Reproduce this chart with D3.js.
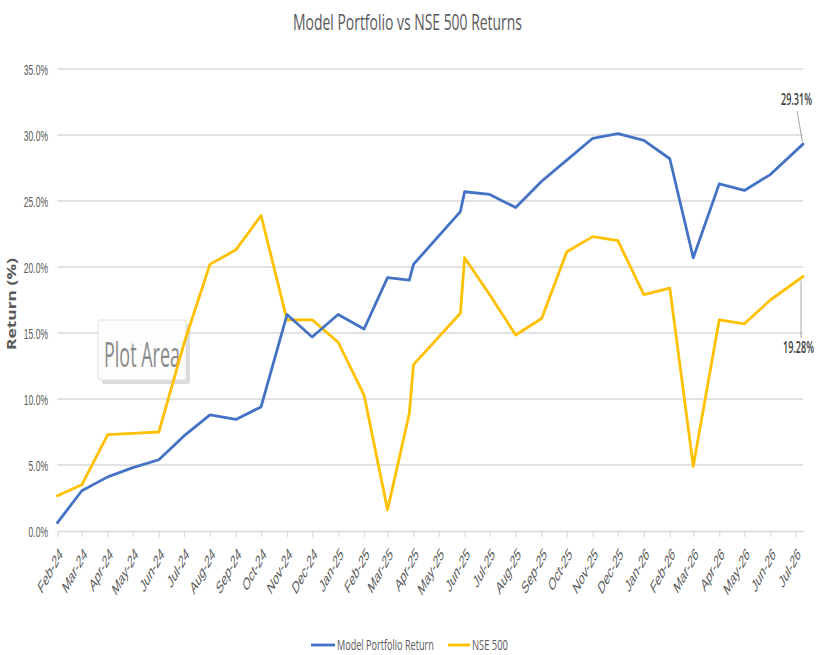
<!DOCTYPE html>
<html>
<head>
<meta charset="utf-8">
<script src="https://cdn.jsdelivr.net/npm/d3@7"></script>
<style>
  html, body { margin: 0; padding: 0; background: #ffffff; }
  svg { display: block; font-family: "Open Sans", "Liberation Sans", sans-serif; }
</style>
</head>
<body>
<svg id="chart" width="816" height="655"></svg>
<script>
// ---------------- data ----------------
const title = "Model Portfolio vs NSE 500 Returns";
const yAxisTitle = "Return (%)";
const seriesNames = ["Model Portfolio Return", "NSE 500"];
const dates = [
  "2024-02-01","2024-03-01","2024-04-01","2024-05-01","2024-06-01","2024-07-01",
  "2024-08-01","2024-09-01","2024-10-01","2024-11-01","2024-12-01","2025-01-01",
  "2025-02-01","2025-03-01","2025-03-27","2025-04-01","2025-05-27","2025-06-01",
  "2025-07-01","2025-08-01","2025-09-01","2025-10-01","2025-11-01","2025-12-01",
  "2026-01-01","2026-02-01","2026-03-01","2026-04-01","2026-05-01","2026-06-01",
  "2026-07-10"
];
const portfolio = [
  0.63, 3.05, 4.1, 4.8, 5.4, 7.2,
  8.8, 8.45, 9.4, 16.4, 14.7, 16.4,
  15.3, 19.2, 19.0, 20.2, 24.2, 25.7,
  25.5, 24.5, 26.5, 28.1, 29.75, 30.1,
  29.6, 28.2, 20.7, 26.3, 25.8, 27.0,
  29.31
];
const nse500 = [
  2.67, 3.5, 7.3, 7.4, 7.5, 14.2,
  20.2, 21.3, 23.9, 16.0, 16.0, 14.3,
  10.3, 1.6, 8.9, 12.6, 16.5, 20.7,
  17.9, 14.85, 16.1, 21.15, 22.3, 22.0,
  17.9, 18.4, 4.9, 16.0, 15.7, 17.5,
  19.28
];
const yTicks = [0, 5, 10, 15, 20, 25, 30, 35];
const endLabels = ["29.31%", "19.28%"];
const colors = ["#4472C4", "#FFC000"];

// ---------------- layout ----------------
const svg = d3.select("#chart");
const parse = d3.timeParse("%Y-%m-%d");
const dts = dates.map(parse);
const plotLeft = 57.5, plotRight = 803, plotTop = 69, plotBottom = 531;

const x = d3.scaleTime().domain(d3.extent(dts)).range([plotLeft, plotRight]);
const y = d3.scaleLinear().domain([0, 35]).range([plotBottom, plotTop]);

const K = 0.55; // horizontal squeeze of the glyphs

// place a text at (px,py) squeezed horizontally to a target width
function fitText(parent, str, px, py, width, opts) {
  const t = parent.append("text")
    .attr("x", 0).attr("y", 0)
    .attr("text-anchor", opts.anchor || "start")
    .attr("fill", opts.fill || "#595959")
    .style("font-size", opts.size + "px")
    .style("font-weight", opts.weight || "normal")
    .text(str);
  const len = t.node().getComputedTextLength();
  const s = width / len;
  t.attr("transform", `translate(${px},${py}) ${opts.rotate ? "rotate(" + opts.rotate + ") " : ""}scale(${s},1)`);
  return t;
}

// gridlines
svg.append("g").selectAll("line").data(yTicks.filter(d => d > 0)).join("line")
  .attr("x1", plotLeft).attr("x2", plotRight)
  .attr("y1", d => y(d)).attr("y2", d => y(d))
  .attr("stroke", "#d9d9d9").attr("stroke-width", 1.5);

// x axis
const xAxis = d3.axisBottom(x)
  .ticks(d3.timeMonth.every(1))
  .tickFormat(d3.timeFormat("%b-%y"))
  .tickSize(6).tickSizeOuter(0);
const gx = svg.append("g").attr("transform", `translate(0,${plotBottom})`).call(xAxis);
gx.select(".domain").attr("stroke", "#d9d9d9").attr("stroke-width", 1.5);
gx.selectAll(".tick line").attr("stroke", "#d9d9d9").attr("stroke-width", 1.2);
gx.selectAll(".tick text")
  .attr("x", 0).attr("y", 0).attr("dy", "0.35em")
  .attr("text-anchor", "end")
  .attr("fill", "#595959")
  .style("font-size", "17.5px")
  .attr("transform", `translate(3,20) scale(${K},1) rotate(-45)`);

// y axis labels
const yAxis = d3.axisLeft(y).tickValues(yTicks)
  .tickFormat(d => d3.format(".1f")(d) + "%").tickSize(0);
const gy = svg.append("g").attr("transform", `translate(${plotLeft},0)`).call(yAxis);
gy.select(".domain").remove();
gy.selectAll(".tick text")
  .attr("x", 0).attr("dy", "0.35em")
  .attr("fill", "#595959")
  .style("font-size", "15.5px")
  .attr("transform", `translate(-9.5,0) scale(${K},1)`);

// "Plot Area" tooltip box (as in the screenshot)
const tip = svg.append("g");
tip.append("rect").attr("x", 102).attr("y", 324).attr("width", 88).attr("height", 60)
  .attr("rx", 2).attr("fill", "#bfbfbf").attr("opacity", 0.55);
tip.append("rect").attr("x", 98).attr("y", 320).attr("width", 88).attr("height", 60)
  .attr("rx", 2).attr("fill", "#fdfdfd").attr("stroke", "#e0e0e0").attr("stroke-width", 1);
fitText(tip, "Plot Area", 104, 367, 76, { size: 35, fill: "#8a8a8a" });

// lines
const series = [portfolio, nse500];
const line = d3.line().x((d, i) => x(dts[i])).y(d => y(d));
[1, 0].forEach(s => {
  svg.append("path").datum(series[s])
    .attr("d", line)
    .attr("fill", "none")
    .attr("stroke", colors[s])
    .attr("stroke-width", 2.8)
    .attr("stroke-linejoin", "round")
    .attr("stroke-linecap", "round");
});

// end data labels with leader lines
const lastI = dates.length - 1;
const px = x(dts[lastI]);
svg.append("line").attr("x1", 797).attr("y1", 111).attr("x2", px - 0.5).attr("y2", y(portfolio[lastI]) - 2)
  .attr("stroke", "#a6a6a6").attr("stroke-width", 1);
svg.append("line").attr("x1", px - 2).attr("y1", y(nse500[lastI]) + 4).attr("x2", px - 2).attr("y2", 338)
  .attr("stroke", "#a6a6a6").attr("stroke-width", 1);
fitText(svg, endLabels[0], 781, 105, 31, { size: 16, fill: "#404040", weight: 600 });
fitText(svg, endLabels[1], 783, 353, 31, { size: 16, fill: "#404040", weight: 600 });

// title
fitText(svg, title, 407.5, 30, 229, { size: 22, anchor: "middle" });

// y axis title
fitText(svg, yAxisTitle, 16, 304, 92, { size: 13, anchor: "middle", weight: "bold", rotate: -90 });

// legend
const legend = [
  { name: seriesNames[0], color: colors[0], x0: 311, x1: 335, tx: 337, tw: 97 },
  { name: seriesNames[1], color: colors[1], x0: 448, x1: 470, tx: 472, tw: 36 }
];
const lg = svg.append("g");
legend.forEach(d => {
  lg.append("line").attr("x1", d.x0).attr("x2", d.x1)
    .attr("y1", 645).attr("y2", 645)
    .attr("stroke", d.color).attr("stroke-width", 2.8);
  fitText(lg, d.name, d.tx, 650, d.tw, { size: 14 });
});
</script>
</body>
</html>
